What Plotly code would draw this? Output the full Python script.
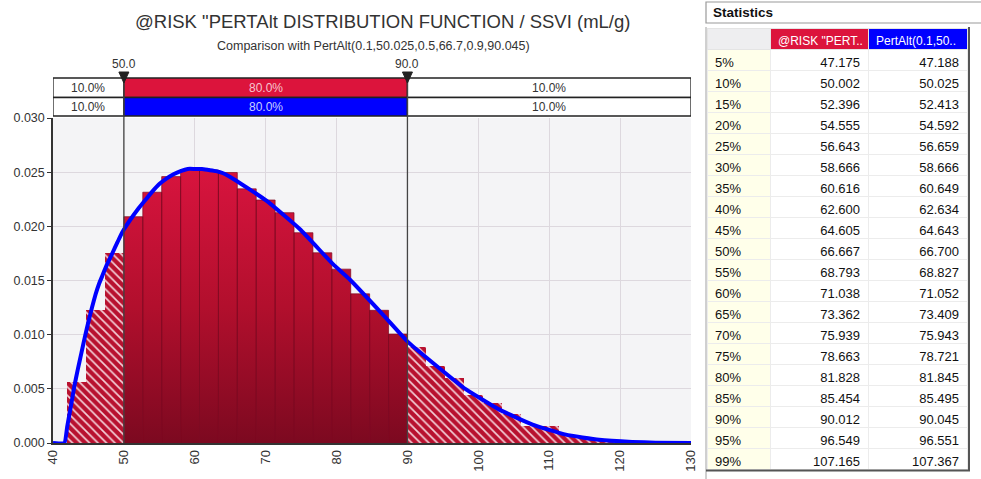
import plotly.graph_objects as go

# ---------------- data ----------------
title_text = '@RISK "PERTAlt DISTRIBUTION FUNCTION / SSVI (mL/g)'
subtitle_text = "Comparison with PertAlt(0.1,50.025,0.5,66.7,0.9,90.045)"

bin_edges = [42.0, 44.667, 47.333, 50.0, 52.667, 55.333, 58.0, 60.667, 63.333, 66.0,
             68.667, 71.333, 74.0, 76.667, 79.333, 82.0, 84.667, 87.333, 90.0, 92.667,
             95.333, 98.0, 100.667, 103.333, 106.0, 108.667, 111.333, 114.0, 116.667,
             119.333, 122.0, 124.667]
bin_height = [0.0056, 0.01225, 0.01756, 0.02089, 0.02315, 0.02459, 0.02524, 0.0252,
              0.02497, 0.02346, 0.02243, 0.02126, 0.01941, 0.01756, 0.01605, 0.01377,
              0.01225, 0.01006, 0.00889, 0.00709, 0.00602, 0.00447, 0.0037, 0.00268,
              0.00154, 0.00154, 0.00077, 0.0005, 0.0004, 0.0002, 0.0001]

curve_x = [40, 41.6, 42, 42.5, 43, 43.5, 44, 44.5, 45, 45.5, 46, 46.5, 47, 47.5, 48,
           48.5, 49, 49.5, 50, 51, 52, 53, 54, 55, 56, 57, 58, 59, 60, 61, 62, 63, 64,
           65.4, 70.1, 74.8, 79.5, 81.83, 86.5, 90.1, 93.56, 98.27, 102.96, 107.65,
           112.35, 117.04, 121.7, 125, 130]
curve_y = [0, 0, 0.0015, 0.0033, 0.0052, 0.0068, 0.0083, 0.0098, 0.0112, 0.0125,
           0.0137, 0.0147, 0.0155, 0.0163, 0.0170, 0.0177, 0.0184, 0.0191, 0.0197,
           0.0207, 0.0216, 0.0224, 0.0232, 0.0239, 0.0244, 0.0248, 0.0251, 0.0253,
           0.0253, 0.0253, 0.0252, 0.0251, 0.0249, 0.0244, 0.02237, 0.01975, 0.01651,
           0.01512, 0.01188, 0.00931, 0.00741, 0.00494, 0.00308, 0.0017, 0.00077,
           0.0003, 0.0001, 0.00003, 0]

x_ticks = [40, 50, 60, 70, 80, 90, 100, 110, 120, 130]
y_ticks = [0.0, 0.005, 0.010, 0.015, 0.020, 0.025, 0.030]

cut_values = [50.0, 90.0]
cut_labels = ["50.0", "90.0"]
band_risk = ["10.0%", "80.0%", "10.0%"]
band_pert = ["10.0%", "80.0%", "10.0%"]

percent_labels = ["5%", "10%", "15%", "20%", "25%", "30%", "35%", "40%", "45%", "50%",
                  "55%", "60%", "65%", "70%", "75%", "80%", "85%", "90%", "95%", "99%"]
risk_values = [47.175, 50.002, 52.396, 54.555, 56.643, 58.666, 60.616, 62.600, 64.605,
               66.667, 68.793, 71.038, 73.362, 75.939, 78.663, 81.828, 85.454, 90.012,
               96.549, 107.165]
pert_values = [47.188, 50.025, 52.413, 54.592, 56.659, 58.666, 60.649, 62.634, 64.643,
               66.700, 68.827, 71.052, 73.409, 75.943, 78.721, 81.845, 85.495, 90.045,
               96.551, 107.367]
table_headers = ["", '@RISK "PERT..', "PertAlt(0.1,50.."]

# ---------------- styling / geometry ----------------
W, H = 981, 479
PLOT_L, PLOT_R, PLOT_T, PLOT_B = 53, 691, 118, 443
FONT = "Liberation Sans"
CRIMSON = "#DC143C"
BLUE = "#0000FF"
TXT = "#333333"


def fx(px):
    return px / W


def fy(py):
    return 1 - py / H


lo, hi = cut_values
x_min, x_max = x_ticks[0], x_ticks[-1]

fig = go.Figure()

# split bins: hatched outside the window, solid inside
hx, hy, hw = [], [], []
sx, sy = [], []
for i, h in enumerate(bin_height):
    l, r = bin_edges[i], bin_edges[i + 1]
    if l >= lo - 1e-6 and r <= hi + 1e-6:
        sx += [l, l, r, r, l, None]
        sy += [0, h, h, 0, 0, None]
    else:
        hx.append((l + r) / 2)
        hy.append(h)
        hw.append(r - l)

fig.add_trace(go.Bar(
    x=hx, y=hy, width=hw,
    marker=dict(color="#B8112F", line=dict(width=0),
                pattern=dict(shape="\\", fgcolor="#F3D0D8", bgcolor="#B8112F",
                             size=6, solidity=0.28, fillmode="replace")),
    showlegend=False, hoverinfo="skip"))

fig.add_trace(go.Scatter(
    x=sx, y=sy, mode="lines", fill="toself",
    line=dict(color="#7E0A22", width=0.7),
    fillgradient=dict(type="vertical",
                      colorscale=[[0, "#7C0920"], [0.5, "#B20F2D"], [1, "#D8143E"]],
                      start=0, stop=max(bin_height)),
    showlegend=False, hoverinfo="skip"))

fig.add_trace(go.Scatter(
    x=curve_x, y=curve_y, mode="lines",
    line=dict(color=BLUE, width=4, shape="spline", smoothing=0.4),
    showlegend=False, hoverinfo="skip"))

shapes = []
annotations = []

# band rows above the plot
r1_top, r1_bot, r2_bot = fy(78), fy(97.5), fy(116)
segments = [(x_min, lo), (lo, hi), (hi, x_max)]
for (y0, y1, labels, mid_color, mid_txt) in [
        (r1_bot, r1_top, band_risk, CRIMSON, "#F6C4CE"),
        (r2_bot, r1_bot, band_pert, BLUE, "#C8D0FF")]:
    for k, (a, b) in enumerate(segments):
        fill = mid_color if k == 1 else "white"
        shapes.append(dict(type="rect", xref="x", yref="paper", x0=a, x1=b, y0=y0, y1=y1,
                           fillcolor=fill, line=dict(color="#222222", width=1.3), layer="above"))
        annotations.append(dict(x=(a + b) / 2, y=(y0 + y1) / 2, xref="x", yref="paper",
                                xanchor="center", yanchor="middle",
                                text=labels[k], showarrow=False,
                                font=dict(family=FONT, size=12,
                                          color=mid_txt if k == 1 else TXT)))

# cut lines, triangles, labels
tri_half = 5 / ((PLOT_R - PLOT_L) / (x_max - x_min))
for v, lab in zip(cut_values, cut_labels):
    shapes.append(dict(type="line", xref="x", yref="paper", x0=v, x1=v,
                       y0=fy(PLOT_B), y1=fy(76),
                       line=dict(color="#444444", width=1.3), layer="above"))
    shapes.append(dict(type="path", xref="x", yref="paper",
                       path=f"M {v - tri_half},{fy(72)} L {v + tri_half},{fy(72)} L {v},{fy(83)} Z",
                       fillcolor="#222222", line=dict(color="#222222", width=1), layer="above"))
    annotations.append(dict(x=v, y=fy(64), xref="x", yref="paper", text=lab,
                            xanchor="center", yanchor="middle", showarrow=False,
                            font=dict(family=FONT, size=12, color=TXT)))

# titles
annotations.append(dict(x=fx(382), y=fy(22), xref="paper", yref="paper", text=title_text,
                        xanchor="center", yanchor="middle", showarrow=False,
                        font=dict(family=FONT, size=18.5, color=TXT)))
annotations.append(dict(x=fx(373), y=fy(45.5), xref="paper", yref="paper", text=subtitle_text,
                        xanchor="center", yanchor="middle", showarrow=False,
                        font=dict(family=FONT, size=12.5, color=TXT)))

# statistics panel header
shapes.append(dict(type="rect", xref="paper", yref="paper", x0=fx(706), x1=fx(995),
                   y0=fy(23), y1=fy(2), fillcolor="white",
                   line=dict(color="#9A9A9A", width=1.2)))
annotations.append(dict(x=fx(711), y=fy(12.5), xref="paper", yref="paper",
                        text="<b>Statistics</b>", xanchor="left", yanchor="middle",
                        showarrow=False, font=dict(family=FONT, size=13.5, color="#111111")))
shapes.append(dict(type="line", xref="paper", yref="paper", x0=fx(706), x1=fx(706),
                   y0=fy(479), y1=fy(27), line=dict(color="#A0A0A0", width=1)))
shapes.append(dict(type="line", xref="paper", yref="paper", x0=fx(969), x1=fx(969),
                   y0=fy(471), y1=fy(27), line=dict(color="#555555", width=2)))
shapes.append(dict(type="line", xref="paper", yref="paper", x0=fx(706), x1=fx(970),
                   y0=fy(470.5), y1=fy(470.5), line=dict(color="#555555", width=2)))

# statistics table (non-breaking spaces keep header text on one line)
n = len(percent_labels)
fig.add_trace(go.Table(
    domain=dict(x=[fx(707), fx(968)], y=[fy(470), fy(28)]),
    columnwidth=[63, 98, 99],
    header=dict(values=[t.replace(" ", "\u00a0") for t in table_headers],
                fill_color=["#EEEEF0", CRIMSON, BLUE],
                font=dict(family=FONT, size=12, color=["#111111", "white", "white"]),
                align="left", height=21, line=dict(color="#E4E4E4", width=1)),
    cells=dict(values=[percent_labels,
                       [f"{v:.3f}" for v in risk_values],
                       [f"{v:.3f}" for v in pert_values]],
               fill_color=[["#FFFFEA"] * n, ["white"] * n, ["white"] * n],
               font=dict(family=FONT, size=13, color="#111111"),
               align=["left", "right", "right"], height=21,
               line=dict(color="#ECECEC", width=1))))

fig.update_layout(
    width=W, height=H,
    margin=dict(l=0, r=0, t=0, b=0, autoexpand=False),
    paper_bgcolor="white", plot_bgcolor="#F4F4F6",
    barmode="overlay", bargap=0,
    shapes=shapes, annotations=annotations,
    showlegend=False,
    xaxis=dict(domain=[fx(PLOT_L), fx(PLOT_R)], range=[x_min, x_max], tickvals=x_ticks,
               tickangle=-90, showgrid=True, gridcolor="#DDD8DE", gridwidth=1,
               showline=True, linecolor="#333333", linewidth=1.5,
               ticks="", tickfont=dict(family=FONT, size=13, color=TXT),
               zeroline=False, fixedrange=True),
    yaxis=dict(domain=[fy(PLOT_B), fy(PLOT_T)], range=[0, y_ticks[-1]], tickvals=y_ticks,
               tickformat=".3f", showgrid=True, gridcolor="#DDD8DE", gridwidth=1,
               showline=True, linecolor="#333333", linewidth=1.5,
               ticks="outside", ticklen=4, tickcolor="#333333",
               tickfont=dict(family=FONT, size=12.5, color=TXT),
               zeroline=False, fixedrange=True),
)

fig.write_html("out.html")
